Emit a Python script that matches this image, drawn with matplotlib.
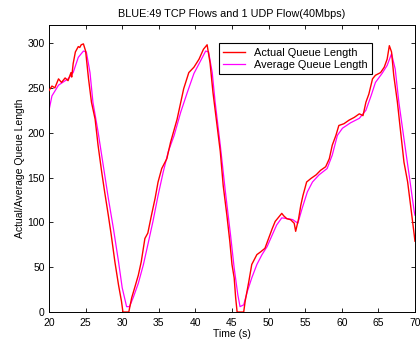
import matplotlib
matplotlib.use('Agg')
import matplotlib.pyplot as plt

# actual queue length
t_actual = [20.0, 20.4, 20.8, 21.3, 21.7, 22.2, 22.6, 23.0, 23.1, 23.3, 23.6, 23.8, 24.0, 24.2, 24.4,
            24.7, 25.0, 25.4, 25.8, 26.3, 26.7, 27.2, 27.6, 28.1, 28.5, 29.0, 29.5, 29.9, 30.1,
            30.5, 30.9, 31.3, 31.7, 32.2, 32.6, 33.1, 33.5, 34.0, 34.5, 34.9, 35.4, 36.1, 36.6,
            37.5, 38.4, 39.1, 39.8, 40.5, 41.1, 41.6, 42.0, 42.4, 42.9, 43.4, 43.8, 44.3, 44.7,
            45.0, 45.3, 45.5, 45.7, 46.2, 46.6, 46.8, 47.3, 47.7, 48.4, 48.9, 49.5, 50.0, 50.5,
            50.9, 51.4, 51.8, 52.1, 52.5, 53.0, 53.5, 53.7, 54.1, 54.4, 54.7, 55.2, 55.8, 56.5,
            57.1, 57.8, 58.3, 58.7, 59.2, 59.6, 60.3, 61.0, 61.7, 62.4, 62.9, 63.3, 63.7, 64.2,
            64.6, 65.3, 65.8, 66.2, 66.5, 66.8, 67.1, 67.6, 68.0, 68.5, 69.0, 69.4, 69.9, 70.0]
q_actual = [247, 252, 250, 260, 256, 261, 258, 267, 262, 277, 290, 293, 296, 295, 298,
            299, 291, 260, 234, 215, 186, 156, 134, 108, 86, 56, 30, 12, 0,
            0, 0, 16, 27, 41, 56, 82, 88, 108, 127, 145, 160, 171, 189,
            215, 249, 267, 273, 282, 293, 298, 278, 245, 212, 179, 141, 108, 79,
            53, 38, 16, 0, 0, 0, 12, 34, 53, 64, 67, 71, 82, 93,
            101, 106, 110, 107, 104, 103, 99, 90, 104, 119, 130, 145, 149, 153,
            158, 162, 171, 186, 197, 208, 210, 214, 217, 221, 219, 234, 243, 260,
            264, 267, 273, 282, 297, 290, 264, 234, 204, 167, 145, 119, 86, 79]

# average queue length
t_avg = [20.0, 20.4, 21.3, 22.6, 23.3, 24.0, 24.7, 25.1, 25.6, 26.0, 26.7, 27.4, 28.1, 28.8,
         29.5, 30.0, 30.6, 31.0, 31.5, 32.2, 32.9, 33.5, 34.2, 34.9, 35.6, 36.3, 37.1, 38.0,
         38.9, 39.8, 40.7, 41.4, 41.8, 42.3, 42.7, 43.4, 44.1, 44.8, 45.3, 45.8, 46.1, 46.6,
         47.1, 47.7, 48.4, 49.1, 49.8, 50.5, 51.1, 51.8, 52.7, 53.3, 54.0, 54.6, 55.3, 56.0,
         56.9, 58.0, 58.7, 59.4, 60.1, 61.2, 62.4, 63.3, 64.0, 64.6, 65.5, 66.2, 66.8, 67.3,
         67.8, 68.5, 69.2, 69.9, 70.0]
q_avg = [225, 241, 253, 260, 267, 284, 291, 290, 267, 234, 201, 164, 127, 93,
         56, 27, 6, 6, 16, 32, 53, 75, 101, 130, 156, 179, 197, 223,
         245, 266, 280, 291, 290, 267, 234, 186, 134, 86, 49, 19, 6, 8,
         23, 38, 53, 64, 73, 86, 97, 105, 104, 103, 99, 116, 134, 145,
         153, 160, 175, 197, 205, 211, 216, 225, 241, 256, 266, 275, 288, 271,
         234, 193, 153, 112, 108]

x_ticks = [20, 25, 30, 35, 40, 45, 50, 55, 60, 65, 70]
y_ticks = [0, 50, 100, 150, 200, 250, 300]

plt.rcParams.update({'font.family': 'Liberation Sans', 'font.size': 7.5})

fig = plt.figure(figsize=(4.2, 3.48), dpi=100)
ax = fig.add_axes([0.1167, 0.1034, 0.8713, 0.8246])

ax.plot(t_actual, q_actual, color='#ff0000', linewidth=1.0, label='Actual Queue Length', zorder=3)
ax.plot(t_avg, q_avg, color='#ff00ff', linewidth=0.9, label='Average Queue Length', zorder=2)

ax.set_xlim(20, 70)
ax.set_ylim(0, 320)
ax.set_xticks(x_ticks)
ax.set_yticks(y_ticks)
ax.tick_params(direction='in', top=True, right=True, length=3, width=0.6)
ax.tick_params(axis='x', pad=4)
ax.tick_params(axis='y', pad=3)
for s in ax.spines.values():
    s.set_linewidth(0.7)

ax.set_title('BLUE:49 TCP Flows and 1 UDP Flow(40Mbps)', fontsize=7.8, pad=6)
ax.set_xlabel('Time (s)', labelpad=1)
ax.set_ylabel('Actual/Average Queue Length', labelpad=2)

leg = ax.legend(loc='upper right', bbox_to_anchor=(0.883, 0.937), borderaxespad=0,
                fancybox=False, edgecolor='black', framealpha=1, handlelength=2.0,
                borderpad=0.4, labelspacing=0.2, fontsize=7.9)
leg.get_frame().set_linewidth(0.8)

fig.savefig('out.png', dpi=100)
